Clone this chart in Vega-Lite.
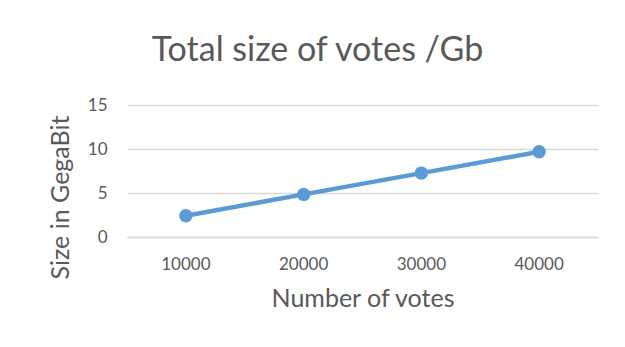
{
  "$schema": "https://vega.github.io/schema/vega-lite/v6.json",
  "autosize": "none",
  "width": 471,
  "height": 132,
  "padding": {"left": 127, "top": 105, "right": 27, "bottom": 110},
  "background": "white",
  "config": {
    "view": {"stroke": null},
    "font": "Lato",
    "axis": {"labelColor": "#595959", "titleColor": "#595959", "labelFont": "Lato", "titleFont": "Lato", "titleFontWeight": "normal"}
  },
  "title": {"text": "Total size of votes /Gb", "fontSize": 34, "font": "Lato", "fontWeight": "normal", "color": "#595959", "anchor": "middle", "dx": -45, "offset": 28},
  "data": {"values": [
    {"votes": "10000", "size": 2.42},
    {"votes": "20000", "size": 4.84},
    {"votes": "30000", "size": 7.26},
    {"votes": "40000", "size": 9.68}
  ]},
  "mark": {"type": "line", "color": "#5B9BD5", "strokeWidth": 4.5, "point": {"filled": true, "size": 180, "color": "#5B9BD5", "opacity": 1}},
  "encoding": {
    "x": {"field": "votes", "type": "ordinal", "scale": {"type": "band", "paddingInner": 0, "paddingOuter": 0},
      "axis": {"title": "Number of votes", "titleFontSize": 25, "labelFontSize": 17, "labelAngle": 0, "ticks": false, "domainColor": "#d9d9d9", "domainWidth": 1.5, "labelPadding": 19, "titlePadding": 14}},
    "y": {"field": "size", "type": "quantitative", "scale": {"domain": [0, 15], "nice": false},
      "axis": {"title": "Size in GegaBit", "values": [0, 5, 10, 15], "titleFontSize": 25, "labelFontSize": 17, "ticks": false, "domain": false, "gridColor": "#d9d9d9", "gridWidth": 1.5, "labelPadding": 20, "titlePadding": 14, "titleY": 92}}
  }
}
